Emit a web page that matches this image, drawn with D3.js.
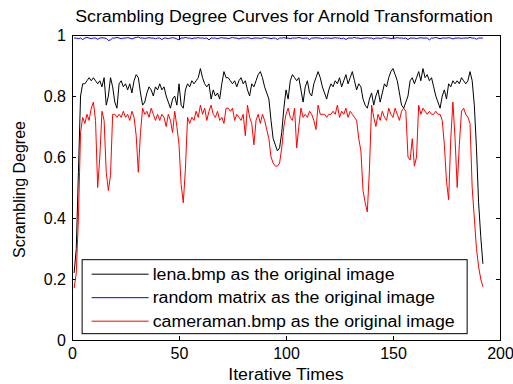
<!DOCTYPE html>
<html>
<head>
<meta charset="utf-8">
<script src="https://cdn.jsdelivr.net/npm/d3@7"></script>
<style>
  html, body { margin: 0; padding: 0; background: #fff; }
  svg { display: block; font-family: "Liberation Sans", Arial, sans-serif; }
</style>
</head>
<body>
<svg id="chart" width="513" height="384"></svg>
<script>
// scrambling degree per iteration (iterations 1..192)
const lena = [
  0.22,0.30,0.55,0.80,0.84,0.84,0.85,0.86,0.85,0.86,
  0.85,0.84,0.85,0.83,0.86,0.77,0.80,0.86,0.83,0.78,
  0.76,0.84,0.85,0.83,0.84,0.82,0.84,0.81,0.85,0.87,
  0.86,0.81,0.77,0.78,0.81,0.83,0.82,0.80,0.83,0.82,
  0.84,0.82,0.83,0.80,0.78,0.76,0.79,0.80,0.77,0.84,
  0.77,0.76,0.82,0.84,0.83,0.85,0.84,0.85,0.86,0.89,
  0.86,0.84,0.83,0.84,0.79,0.82,0.80,0.81,0.79,0.84,
  0.88,0.86,0.86,0.85,0.84,0.85,0.83,0.85,0.86,0.84,
  0.85,0.82,0.80,0.84,0.83,0.85,0.87,0.88,0.86,0.83,
  0.81,0.79,0.72,0.66,0.64,0.62,0.63,0.68,0.76,0.82,
  0.79,0.85,0.87,0.86,0.85,0.86,0.82,0.78,0.83,0.85,
  0.81,0.80,0.84,0.86,0.88,0.86,0.83,0.81,0.79,0.82,
  0.84,0.83,0.85,0.84,0.86,0.83,0.85,0.87,0.84,0.86,
  0.88,0.85,0.82,0.84,0.83,0.79,0.77,0.76,0.79,0.81,
  0.77,0.80,0.82,0.78,0.81,0.84,0.83,0.86,0.88,0.89,
  0.87,0.85,0.81,0.77,0.76,0.78,0.80,0.85,0.86,0.84,
  0.86,0.88,0.85,0.89,0.86,0.87,0.85,0.86,0.83,0.80,
  0.78,0.76,0.80,0.82,0.79,0.84,0.83,0.85,0.84,0.85,
  0.84,0.86,0.85,0.84,0.85,0.88,0.85,0.77,0.63,0.45,
  0.34,0.25
];

const randomMatrix = [
  0.99,0.99,0.988,0.99,0.985,0.99,0.992,0.99,0.988,0.99,
  0.99,0.986,0.99,0.991,0.99,0.989,0.982,0.984,0.99,0.99,
  0.992,0.99,0.988,0.99,0.99,0.991,0.99,0.987,0.99,0.992,
  0.993,0.99,0.99,0.989,0.99,0.991,0.99,0.99,0.988,0.99,
  0.99,0.985,0.99,0.99,0.988,0.99,0.991,0.99,0.987,0.984,
  0.99,0.99,0.992,0.99,0.99,0.988,0.99,0.99,0.991,0.99,
  0.99,0.989,0.99,0.984,0.99,0.99,0.99,0.988,0.99,0.991,
  0.99,0.99,0.988,0.99,0.992,0.99,0.99,0.987,0.99,0.99,
  0.99,0.991,0.99,0.988,0.99,0.99,0.99,0.989,0.99,0.992,
  0.99,0.99,0.988,0.99,0.99,0.985,0.99,0.99,0.991,0.99,
  0.99,0.988,0.99,0.99,0.99,0.992,0.99,0.989,0.99,0.99,
  0.985,0.99,0.99,0.991,0.99,0.99,0.988,0.99,0.99,0.99,
  0.989,0.99,0.991,0.99,0.99,0.988,0.99,0.985,0.99,0.99,
  0.99,0.992,0.99,0.99,0.988,0.99,0.99,0.991,0.99,0.99,
  0.987,0.99,0.99,0.989,0.99,0.992,0.99,0.99,0.988,0.99,
  0.99,0.991,0.99,0.99,0.989,0.99,0.985,0.99,0.99,0.99,
  0.988,0.99,0.991,0.99,0.99,0.99,0.984,0.99,0.99,0.992,
  0.99,0.988,0.99,0.99,0.99,0.991,0.99,0.987,0.99,0.99,
  0.99,0.989,0.99,0.99,0.99,0.992,0.99,0.99,0.986,0.99,
  0.99,0.99
];

const cameraman = [
  0.17,0.22,0.40,0.68,0.73,0.71,0.74,0.72,0.76,0.78,
  0.72,0.50,0.60,0.75,0.72,0.55,0.49,0.54,0.74,0.74,
  0.73,0.74,0.73,0.75,0.73,0.74,0.72,0.75,0.73,0.67,
  0.55,0.68,0.76,0.74,0.75,0.73,0.76,0.74,0.72,0.74,
  0.72,0.74,0.73,0.70,0.74,0.72,0.68,0.75,0.70,0.64,
  0.51,0.45,0.56,0.73,0.71,0.73,0.72,0.75,0.73,0.77,
  0.74,0.76,0.72,0.75,0.77,0.74,0.73,0.75,0.72,0.73,
  0.71,0.76,0.76,0.75,0.76,0.72,0.74,0.73,0.72,0.74,
  0.67,0.77,0.73,0.71,0.64,0.72,0.74,0.71,0.74,0.72,
  0.69,0.66,0.60,0.58,0.57,0.57,0.58,0.63,0.70,0.74,
  0.76,0.73,0.72,0.76,0.63,0.70,0.76,0.73,0.74,0.73,
  0.75,0.74,0.72,0.69,0.77,0.74,0.74,0.74,0.73,0.74,
  0.74,0.75,0.74,0.77,0.73,0.75,0.74,0.76,0.73,0.75,
  0.74,0.73,0.72,0.66,0.62,0.49,0.45,0.42,0.56,0.77,
  0.73,0.70,0.74,0.72,0.75,0.73,0.72,0.76,0.74,0.73,
  0.76,0.74,0.72,0.75,0.76,0.75,0.60,0.59,0.66,0.57,
  0.60,0.77,0.74,0.76,0.75,0.74,0.75,0.74,0.74,0.75,
  0.74,0.74,0.72,0.64,0.52,0.46,0.66,0.78,0.66,0.50,
  0.64,0.75,0.76,0.74,0.73,0.71,0.50,0.40,0.30,0.24,
  0.20,0.175
];

const seriesNames = [
  "lena.bmp as the original image",
  "random matrix as the original image",
  "cameraman.bmp as the original image"
];
const seriesColors = ["#000000", "#0000ff", "#ff0000"];
const xTicks = [0, 50, 100, 150, 200];
const yTicks = [0, 0.2, 0.4, 0.6, 0.8, 1];

const margin = { top: 35, right: 13, bottom: 44, left: 72 };
const width = 513, height = 384;
const w = width - margin.left - margin.right;
const h = height - margin.top - margin.bottom;
// the original figure was stretched sideways, so text is widened a bit
const stretch = 1.11;

const svg = d3.select("#chart");
svg.append("rect").attr("width", width).attr("height", height).attr("fill", "#fff");

const g = svg.append("g").attr("transform", `translate(${margin.left},${margin.top})`);

const x = d3.scaleLinear().domain([0, 200]).range([0, w]);
const y = d3.scaleLinear().domain([0, 1]).range([h, 0]);

function widen(sel) {
  sel.each(function () {
    const len = this.getComputedTextLength();
    d3.select(this).attr("textLength", len * stretch).attr("lengthAdjust", "spacingAndGlyphs");
  });
}

// axes, MATLAB style: ticks inside on all four sides
function styleAxis(sel) {
  sel.select(".domain").remove();
  sel.selectAll(".tick line").attr("stroke", "#000");
  sel.selectAll(".tick text").attr("fill", "#000").attr("font-size", 16)
    .attr("font-family", "Liberation Sans, Arial, sans-serif");
}

g.append("g").attr("transform", `translate(0,${h})`)
  .call(d3.axisBottom(x).tickValues(xTicks).tickSize(-4).tickPadding(8))
  .call(styleAxis);
g.append("g")
  .call(d3.axisTop(x).tickValues(xTicks).tickSize(-4).tickFormat(""))
  .call(styleAxis);
g.append("g")
  .call(d3.axisLeft(y).tickValues(yTicks).tickSize(-4).tickPadding(6).tickFormat(d3.format("~g")))
  .call(styleAxis);
g.append("g").attr("transform", `translate(${w},0)`)
  .call(d3.axisRight(y).tickValues(yTicks).tickSize(-4).tickFormat(""))
  .call(styleAxis);

const line = d3.line()
  .x((d, i) => x(i + 1))
  .y(d => y(d));

[lena, randomMatrix, cameraman].forEach((data, k) => {
  g.append("path")
    .datum(data)
    .attr("fill", "none")
    .attr("stroke", seriesColors[k])
    .attr("stroke-width", 1)
    .attr("d", line);
});

// plot box
g.append("rect")
  .attr("x", 0.5).attr("y", 0.5)
  .attr("width", w).attr("height", h)
  .attr("fill", "none").attr("stroke", "#000");

// legend
const legend = g.append("g").attr("transform", `translate(${x(4.5)},${y(0.265)})`);
legend.append("rect")
  .attr("x", 0.5).attr("y", 0.5)
  .attr("width", 385).attr("height", 74)
  .attr("fill", "#fff").attr("stroke", "#000");
seriesNames.forEach((name, k) => {
  const yy = 15 + k * 23.5;
  legend.append("line")
    .attr("x1", 10).attr("x2", 67)
    .attr("y1", yy).attr("y2", yy)
    .attr("stroke", seriesColors[k]);
  legend.append("text")
    .attr("x", 71).attr("y", yy + 5.5)
    .attr("font-size", 16)
    .attr("fill", "#000")
    .text(name)
    .call(widen);
});

// titles
svg.append("text")
  .attr("x", margin.left + w / 2 - 2).attr("y", 22)
  .attr("text-anchor", "middle").attr("font-size", 16)
  .text("Scrambling Degree Curves for Arnold Transformation")
  .call(widen);
svg.append("text")
  .attr("x", margin.left + w / 2).attr("y", 380)
  .attr("text-anchor", "middle").attr("font-size", 16)
  .text("Iterative Times")
  .call(widen);
svg.append("text")
  .attr("transform", `translate(25,${margin.top + h / 2 + 2}) rotate(-90)`)
  .attr("text-anchor", "middle").attr("font-size", 16)
  .text("Scrambling Degree");
</script>
</body>
</html>
